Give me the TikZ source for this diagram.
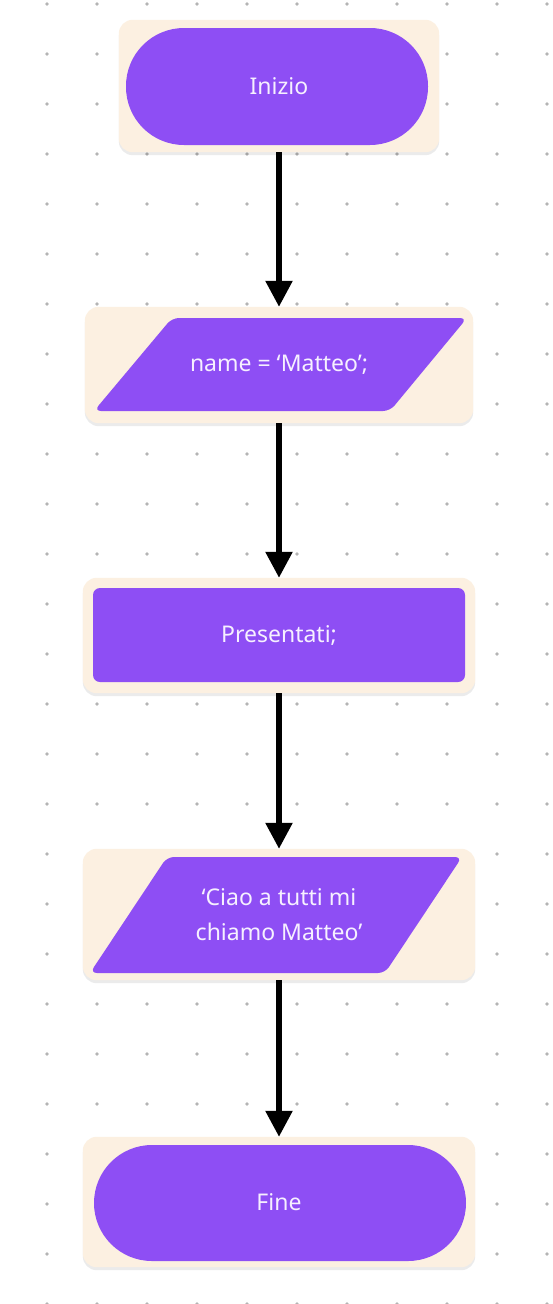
\documentclass[tikz,border=0pt]{standalone}
\usepackage{fontspec}
\setmainfont{Noto Sans}
\usetikzlibrary{arrows.meta,shadows}
\definecolor{cream}{HTML}{FCF0E1}
\definecolor{violet}{HTML}{8E4EF4}
\definecolor{dotgray}{HTML}{B4B4B4}
\definecolor{txt}{HTML}{F6F0FF}
\pgfdeclarelayer{gridlayer}
\pgfdeclarelayer{bglayer}
\pgfsetlayers{gridlayer,bglayer,main}
\tikzset{
  box/.style={rectangle, inner sep=0pt, minimum width=392pt, text=txt, align=center,
    font=\fontsize{23}{35}\selectfont},
  outerfill/.style={fill=cream, rounded corners=14pt,
    drop shadow={shadow xshift=0pt, shadow yshift=-3pt, opacity=0.08, fill=black}},
  innerfill/.style={fill=violet, rounded corners=#1},
  flowarrow/.style={line width=5.5pt, -{Triangle[width=26pt,length=26pt]}},
}
\begin{document}
\begin{tikzpicture}[x=1pt,y=-1pt]
\useasboundingbox (0,0) rectangle (552,1304);
% dot grid
\begin{pgfonlayer}{gridlayer}
\fill[white] (0,0) rectangle (552,1304);
\foreach \i in {0,...,10}{
  \foreach \j in {0,...,26}{
    \fill[dotgray] (47+50*\i,4+50*\j) circle (1.8pt);
  }
}
\end{pgfonlayer}
% nodes
\node[box, minimum width=320pt, minimum height=132pt] (n1) at (279,86) {Inizio};
\node[box, minimum width=388pt, minimum height=116pt] (n2) at (279,365) {name = ‘Matteo’;};
\node[box, minimum height=115pt] (n3) at (279,635.5) {Presentati;};
\node[box, minimum height=131pt] (n4) at (279,914.5) {‘Ciao a tutti mi\\chiamo Matteo’};
\node[box, minimum height=130pt] (n5) at (279,1202) {Fine};
\begin{pgfonlayer}{bglayer}
\foreach \n in {n1,n2,n3,n4,n5}{
  \path[outerfill] (\n.north west) rectangle (\n.south east);
}
\fill[innerfill=58pt] ([shift={(-153,-58)}]n1.center) rectangle ([shift={(149,59)}]n1.center);
\fill[innerfill=7pt] ([shift={(-107,-47)}]n2.center) -- ([shift={(188,-47)}]n2.center)
  -- ([shift={(111,46)}]n2.center) -- ([shift={(-185,46)}]n2.center) -- cycle;
\fill[innerfill=7pt] ([shift={(-186,-47.5)}]n3.center) rectangle ([shift={(186,46.5)}]n3.center);
\fill[innerfill=7pt] ([shift={(-112,-57.5)}]n4.center) -- ([shift={(183,-57.5)}]n4.center)
  -- ([shift={(106,58.5)}]n4.center) -- ([shift={(-189,58.5)}]n4.center) -- cycle;
\fill[innerfill=58pt] ([shift={(-185,-57)}]n5.center) rectangle ([shift={(187,59)}]n5.center);
\end{pgfonlayer}
% connectors
\draw[flowarrow] (n1.south) -- (n2.north);
\draw[flowarrow] (n2.south) -- (n3.north);
\draw[flowarrow] (n3.south) -- (n4.north);
\draw[flowarrow] (n4.south) -- (n5.north);
\end{tikzpicture}
\end{document}
